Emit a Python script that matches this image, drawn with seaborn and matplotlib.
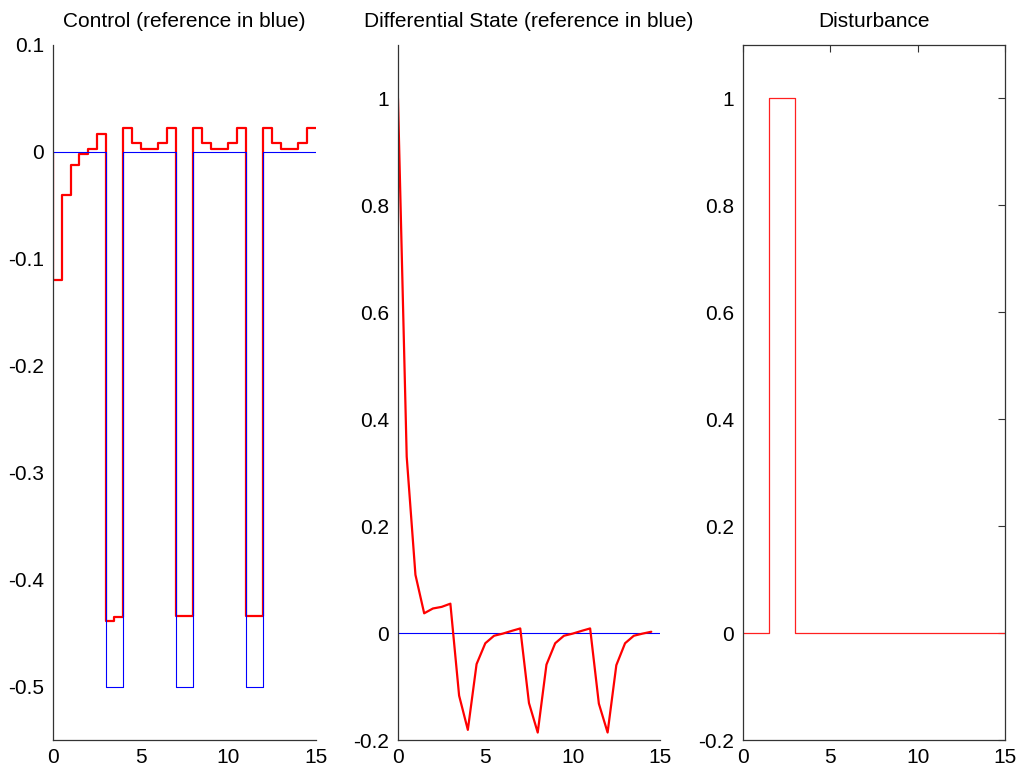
import numpy as np
import pandas as pd
import matplotlib
matplotlib.use("Agg")
import matplotlib.pyplot as plt
import seaborn as sns
from matplotlib.ticker import FuncFormatter

# ---------------- data ----------------
# control (stairs, sample time 0.5)
t_ctrl = [0, 0, 0.5, 1, 1.5, 2, 2.5, 3, 3.5, 4, 4.5, 5, 5.5, 6, 6.5, 7, 7.5, 8, 8.5, 9, 9.5,
          10, 10.5, 11, 11.5, 12, 12.5, 13, 13.5, 14, 14.5, 15]
u_ctrl = [0, -0.12, -0.04, -0.012, -0.002, 0.0025, 0.0165, -0.439, -0.435,
          0.022, 0.008, 0.003, 0.003, 0.008, 0.022, -0.434, -0.434,
          0.022, 0.008, 0.003, 0.003, 0.008, 0.022, -0.434, -0.434,
          0.022, 0.008, 0.003, 0.003, 0.008, 0.022, 0.022]
t_uref = [0, 3, 4, 7, 8, 11, 12, 15]
u_ref = [0, -0.5, 0, -0.5, 0, -0.5, 0, 0]

# differential state
t_state = [0, 0.5, 1, 1.5, 2, 2.5, 3, 3.5, 4, 4.5, 5, 5.5, 6, 6.5, 7, 7.5, 8, 8.5, 9, 9.5,
           10, 10.5, 11, 11.5, 12, 12.5, 13, 13.5, 14, 14.5]
x_state = [1.0, 0.33, 0.109, 0.037, 0.046, 0.049, 0.055, -0.117, -0.181, -0.058,
           -0.019, -0.005, -0.001, 0.004, 0.0087, -0.131, -0.186, -0.059, -0.019, -0.005,
           -0.001, 0.004, 0.0087, -0.132, -0.186, -0.06, -0.019, -0.005, -0.001, 0.0025]
t_xref = [0, 15]
x_ref = [0, 0]

# disturbance
t_dist = [0, 1.5, 3, 15]
d_dist = [0, 1, 0, 0]

titles = ["Control (reference in blue)", "Differential State (reference in blue)", "Disturbance"]
xticks = [0, 5, 10, 15]
yticks_ctrl = [0.1, 0, -0.1, -0.2, -0.3, -0.4, -0.5]
yticks_state = [1, 0.8, 0.6, 0.4, 0.2, 0, -0.2]

# ---------------- style ----------------
sns.set_style("white")
plt.rcParams["font.family"] = ["Liberation Sans", "DejaVu Sans"]
plt.rcParams["axes.unicode_minus"] = False
plt.rcParams["xtick.direction"] = "in"
plt.rcParams["ytick.direction"] = "in"
plt.rcParams["text.color"] = "black"
plt.rcParams["xtick.labelcolor"] = "black"
plt.rcParams["ytick.labelcolor"] = "black"

fig = plt.figure(figsize=(10.22, 7.69), dpi=100)
bottom, height = 0.0377, 0.9038
axs = [fig.add_axes([0.0519, bottom, 0.2573, height]),
       fig.add_axes([0.3894, bottom, 0.2564, height]),
       fig.add_axes([0.7270, bottom, 0.2564, height])]

fmt = FuncFormatter(lambda v, p: ("%g" % round(v, 6)))

# control
ax = axs[0]
sns.lineplot(x=t_ctrl, y=u_ctrl, ax=ax, color="red", lw=1.6, drawstyle="steps-post",
             estimator=None, sort=False)
sns.lineplot(x=t_uref, y=u_ref, ax=ax, color="blue", lw=0.8, drawstyle="steps-post",
             estimator=None, sort=False)
ax.set_ylim(-0.55, 0.1)
ax.set_yticks(yticks_ctrl)

# state
ax = axs[1]
sns.lineplot(x=t_xref, y=x_ref, ax=ax, color="blue", lw=0.8, estimator=None, sort=False)
sns.lineplot(x=t_state, y=x_state, ax=ax, color="red", lw=1.6, estimator=None, sort=False)
ax.set_ylim(-0.2, 1.1)
ax.set_yticks(yticks_state)

# disturbance
ax = axs[2]
sns.lineplot(x=t_dist, y=d_dist, ax=ax, color="#ff2020", lw=0.9, drawstyle="steps-post",
             estimator=None, sort=False)
ax.set_ylim(-0.2, 1.1)
ax.set_yticks(yticks_state)

for i, ax in enumerate(axs):
    ax.set_xlim(0, 15)
    ax.set_xticks(xticks)
    ax.xaxis.set_major_formatter(fmt)
    ax.yaxis.set_major_formatter(fmt)
    ax.set_title(titles[i], fontsize=15, pad=13, color="black")
    ax.tick_params(labelsize=15, length=5, width=0.8, color="#333333")
    ax.tick_params(axis="y", pad=6.5)
    ax.tick_params(axis="x", pad=6)
    for s in ax.spines.values():
        s.set_color("#333333")
        s.set_linewidth(0.9)
    if i < 2:
        ax.spines["top"].set_visible(False)
        ax.spines["right"].set_visible(False)
    else:
        ax.tick_params(top=True, right=True)
    ax.set_xlabel("")
    ax.set_ylabel("")

fig.savefig("out.png", dpi=100)
